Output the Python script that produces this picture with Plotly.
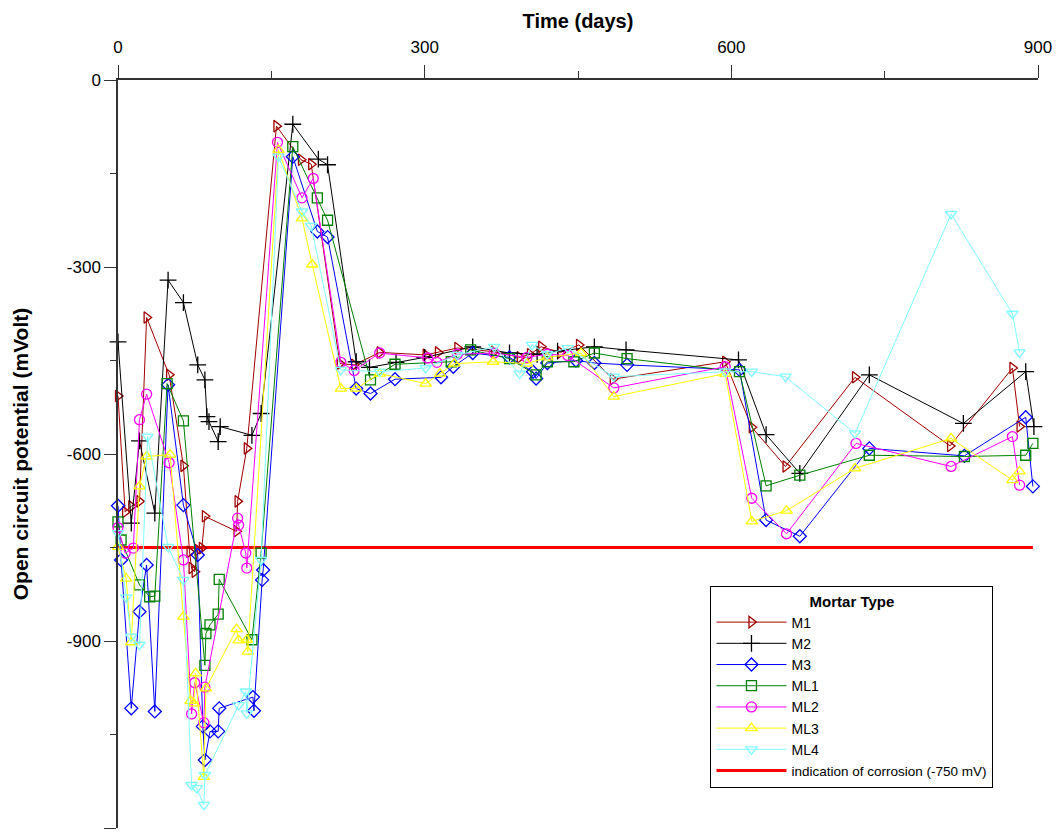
import plotly.graph_objects as go

# ---------------- data ----------------
m1_days = [0, 7, 13, 21, 28, 50, 64, 70, 72, 75, 78, 82, 85, 116, 117, 126, 155, 179, 189,
           217, 231, 256, 301, 313, 332, 368, 393, 403, 414, 433, 451, 484, 594, 620, 653,
           721, 814, 875, 882]
m1_mv = [-507, -693, -684, -676, -381, -473, -619, -757, -783, -789, -754, -751, -700, -724,
         -676, -591, -74, -128, -135, -455, -457, -437, -441, -437, -430, -436, -445, -440,
         -428, -437, -425, -480, -452, -557, -620, -477, -587, -462, -556]

m2_days = [0, 13, 21, 36, 49, 64, 78, 85, 87, 89, 98, 100, 131, 140, 171, 196, 205, 233,
           246, 272, 300, 347, 383, 410, 430, 466, 497, 607, 634, 667, 735, 827, 888, 896]
m2_mv = [-420, -711, -579, -695, -321, -357, -457, -481, -540, -548, -580, -556, -570, -535,
         -71, -127, -136, -452, -461, -453, -445, -428, -438, -440, -435, -428, -433, -449,
         -569, -631, -473, -551, -468, -556]

m3_days = [0, 3, 13, 21, 28, 36, 49, 64, 78, 83, 85, 90, 98, 99, 132, 133, 141, 142, 171,
           195, 205, 233, 247, 271, 316, 328, 347, 383, 406, 409, 420, 448, 466, 498, 608,
           634, 667, 735, 828, 888, 895]
m3_mv = [-683, -770, -1008, -853, -778, -1013, -489, -682, -762, -1037, -1091, -1045, -1045,
         -1008, -990, -1012, -802, -786, -123, -243, -252, -495, -503, -480, -477, -460,
         -438, -445, -468, -479, -454, -450, -454, -457, -465, -706, -732, -591, -603, -541,
         -652]

ml1_days = [0, 3, 21, 31, 36, 48, 64, 85, 86, 90, 98, 99, 131, 140, 171, 195, 205, 247,
            271, 326, 345, 383, 409, 420, 446, 466, 498, 608, 634, 667, 735, 828, 888, 895]
ml1_mv = [-709, -738, -810, -829, -828, -487, -547, -939, -888, -874, -857, -801, -898, -759,
          -107, -189, -225, -481, -456, -452, -433, -447, -473, -452, -452, -438, -447, -468,
          -651, -634, -602, -604, -602, -583]

ml2_days = [0, 7, 15, 21, 28, 50, 64, 72, 75, 84, 85, 117, 118, 125, 126, 156, 180, 191,
            218, 231, 256, 303, 312, 332, 368, 400, 420, 440, 485, 594, 620, 654, 722, 815,
            875, 882]
ml2_mv = [-718, -759, -751, -545, -504, -614, -770, -1017, -967, -1031, -974, -703, -714,
          -759, -783, -100, -189, -158, -453, -466, -438, -446, -453, -440, -438, -445, -440,
          -442, -494, -460, -671, -728, -583, -620, -572, -650]

ml3_days = [0, 8, 13, 21, 28, 51, 64, 71, 74, 76, 84, 86, 116, 118, 126, 127, 157, 180,
            190, 218, 233, 256, 301, 315, 329, 367, 400, 420, 453, 485, 594, 620, 654, 721,
            815, 875, 882]
ml3_mv = [-749, -800, -902, -652, -604, -601, -861, -996, -1000, -952, -1118, -976, -881,
          -899, -898, -917, -112, -222, -296, -495, -495, -471, -487, -471, -455, -452, -455,
          -445, -438, -508, -471, -708, -691, -623, -575, -642, -628]

ml4_days = [0, 8, 13, 21, 29, 49, 64, 72, 77, 84, 85, 118, 125, 126, 140, 157, 180, 189,
            218, 256, 301, 332, 368, 393, 405, 420, 440, 485, 594, 620, 653, 721, 815, 875,
            882]
ml4_mv = [-727, -830, -893, -906, -572, -749, -802, -1131, -1136, -1163, -1115, -1003, -981,
          -1016, -770, -123, -211, -234, -465, -468, -462, -441, -428, -471, -425, -440, -430,
          -476, -468, -468, -476, -567, -215, -375, -437]

threshold_days = [0, 895]
threshold_mv = [-750, -750]

series_names = ["M1", "M2", "M3", "ML1", "ML2", "ML3", "ML4"]
x_ticks = [0, 300, 600, 900]
y_ticks = [0, -300, -600, -900, -1200]

# ---------------- figure ----------------
FONT = "Liberation Sans, Arial, sans-serif"
styles = [
    ("triangle-right-open", "#a00000"),
    ("cross-thin-open", "#000000"),
    ("diamond-open", "#0000ff"),
    ("square-open", "#008000"),
    ("circle-open", "#ff00ff"),
    ("triangle-up-open", "#ffff00"),
    ("triangle-down-open", "#80ffff"),
]
data = [(m1_days, m1_mv), (m2_days, m2_mv), (m3_days, m3_mv), (ml1_days, ml1_mv),
        (ml2_days, ml2_mv), (ml3_days, ml3_mv), (ml4_days, ml4_mv)]

fig = go.Figure()
fig.add_trace(go.Scatter(
    x=threshold_days, y=threshold_mv, mode="lines",
    line=dict(color="#ff0000", width=3),
    name='<span style="font-size:13.5px">indication of corrosion (-750 mV)</span>',
    legendrank=1000,
))
for i, (name, (xs, ys), (sym, col)) in enumerate(zip(series_names, data, styles)):
    fig.add_trace(go.Scatter(
        x=xs, y=ys, mode="lines+markers", name=name, cliponaxis=False,
        line=dict(color=col, width=1),
        marker=dict(symbol=sym, size=10 if sym != "cross-thin-open" else 12,
                    color=col, line=dict(color=col, width=1.3)),
        legendrank=i + 1,
    ))

fig.update_layout(
    width=1060, height=836,
    margin=dict(l=118, r=20, t=80, b=8),
    paper_bgcolor="white", plot_bgcolor="white",
    font=dict(family=FONT, size=17, color="black"),
    showlegend=True,
    legend=dict(
        x=0.644, y=0.3235, xanchor="left", yanchor="top",
        bgcolor="white", bordercolor="black", borderwidth=1,
        font=dict(size=14, family=FONT),
        title=dict(text="<b>Mortar Type</b>", side="top center", font=dict(size=15)),
        tracegroupgap=0, itemwidth=70,
    ),
    xaxis=dict(
        range=[0, 900], side="top", tickvals=x_ticks, ticktext=[str(v) for v in x_ticks],
        ticks="outside", ticklen=13, tickwidth=1, tickcolor="#333",
        minor=dict(dtick=150, ticks="outside", ticklen=7, tickcolor="#333", showgrid=False),
        showline=True, linecolor="#333", linewidth=1.5, showgrid=False, zeroline=False,
        ticklabelstandoff=5,
        title=dict(text="<b>Time (days)</b>", font=dict(size=20), standoff=4),
    ),
    yaxis=dict(
        range=[-1200, 0], tickvals=y_ticks, ticktext=[str(v) for v in y_ticks],
        ticks="outside", ticklen=12, tickwidth=1, tickcolor="#333",
        minor=dict(dtick=150, ticks="outside", ticklen=6, tickcolor="#333", showgrid=False),
        showline=True, linecolor="#333", linewidth=1.5, showgrid=False, zeroline=False,
        title=dict(text="<b>Open circuit potential (mVolt)</b>", font=dict(size=21), standoff=32),
    ),
)

fig.write_html("out.html")
